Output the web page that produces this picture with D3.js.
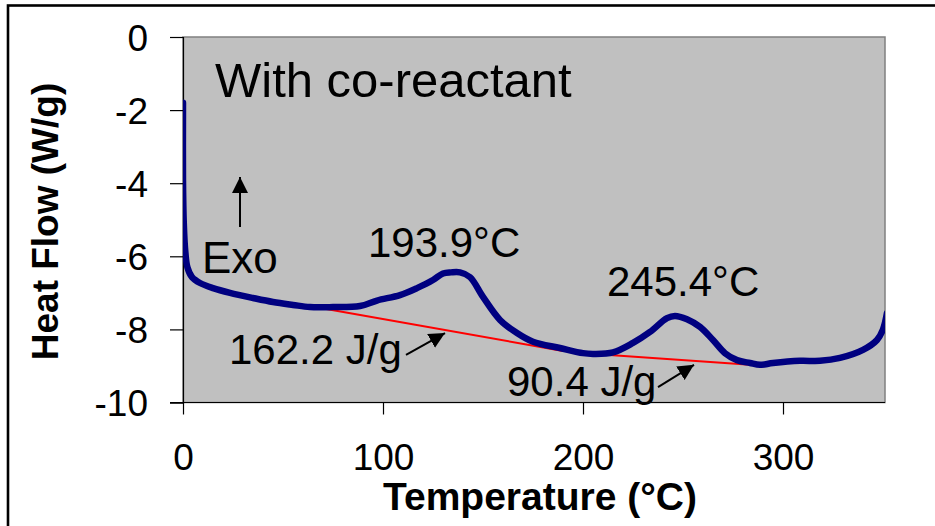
<!DOCTYPE html>
<html>
<head>
<meta charset="utf-8">
<script src="https://cdn.jsdelivr.net/npm/d3@7"></script>
<style>
  html, body { margin: 0; padding: 0; background: #fff; }
  svg { display: block; font-family: "Liberation Sans", Arial, sans-serif; }
</style>
</head>
<body>
<svg id="chart" width="935" height="526"></svg>
<script>
// DSC trace: temperature (°C) vs heat flow (W/g)
const temperature = [0, 0, 0.4, 1.2, 2.2, 4.5, 8.5, 15, 23.5, 35, 45, 55, 63.5, 75, 88.5, 97, 108.5, 117, 125, 130, 134, 138.5, 143.5, 150, 158.5, 167, 175, 188.5, 200, 205, 215, 225, 233.5, 242, 246, 252, 258.5, 265, 271, 277, 283.5, 288.5, 295, 308.5, 318.5, 328.5, 340, 347, 350, 352];
const heatFlow = [-1.8, -3.9, -5.1, -5.9, -6.3, -6.57, -6.73, -6.87, -7.0, -7.14, -7.25, -7.33, -7.39, -7.39, -7.36, -7.21, -7.06, -6.87, -6.65, -6.47, -6.44, -6.44, -6.57, -7.11, -7.74, -8.1, -8.34, -8.51, -8.65, -8.67, -8.63, -8.37, -8.07, -7.69, -7.63, -7.72, -7.93, -8.29, -8.65, -8.84, -8.92, -8.97, -8.92, -8.86, -8.86, -8.78, -8.56, -8.29, -8.0, -7.55];

// Integration baselines under the two exotherms
const baselineStart = [[66, -7.39], [206, -8.67]];
const baselineEnd = [[190, -8.59], [283.5, -8.97]];

// Axis ticks
const xTicks = [0, 100, 200, 300];
const yTicks = [0, -2, -4, -6, -8, -10];

// Text annotations (anchor in data units)
const labelText = ["With co-reactant", "Exo", "193.9°C", "245.4°C", "162.2 J/g", "90.4 J/g"];
const labelT = [16, 9.5, 92.5, 212, 23, 162];
const labelH = [-1.64, -6.46, -6.02, -7.09, -8.95, -9.82];
const labelSize = [49, 44, 42, 42, 42, 42];

// Arrows: from (tail) to (head) in data units
const arrowFrom = [[28.5, -5.2], [111.5, -8.70], [237.5, -9.58]];
const arrowTo = [[28.5, -3.83], [131, -8.10], [255.5, -8.97]];

const svg = d3.select("#chart");
const plotLeft = 183, plotRight = 885, plotTop = 37, plotBottom = 402.5;

const x = d3.scaleLinear().domain([0, 351]).range([plotLeft, plotRight]);
const y = d3.scaleLinear().domain([-10, 0]).range([plotBottom, plotTop]);

// outer frame
svg.append("rect")
  .attr("x", 8).attr("y", 5.5).attr("width", 1000).attr("height", 600)
  .attr("fill", "none").attr("stroke", "#000").attr("stroke-width", 2.6);

// plot area
svg.append("rect")
  .attr("x", plotLeft).attr("y", plotTop).attr("width", plotRight - plotLeft).attr("height", plotBottom - plotTop)
  .attr("fill", "#c0c0c0").attr("stroke", "#808080").attr("stroke-width", 1.5);

const defs = svg.append("defs");
defs.append("clipPath").attr("id", "plotClip")
  .append("rect").attr("x", plotLeft).attr("y", plotTop)
  .attr("width", plotRight - plotLeft).attr("height", plotBottom - plotTop);

// axes (plain hyphen for negatives)
const fmt = d => String(d);
const xAxis = svg.append("g").attr("transform", `translate(0,${plotBottom})`)
  .call(d3.axisBottom(x).tickValues(xTicks).tickSize(12).tickPadding(30).tickFormat(fmt));
const yAxis = svg.append("g").attr("transform", `translate(${plotLeft},0)`)
  .call(d3.axisLeft(y).tickValues(yTicks).tickSize(13).tickPadding(22).tickFormat(fmt));

[xAxis, yAxis].forEach(g => {
  g.select(".domain").attr("stroke", "#000").attr("stroke-width", 1.2);
  g.selectAll(".tick line").attr("stroke", "#000").attr("stroke-width", 1.2);
  g.selectAll(".tick text").attr("fill", "#000")
    .style("font-family", "'Liberation Sans', Arial, sans-serif").style("font-size", "37px");
});
// the x baseline runs out under the y ticks
xAxis.select(".domain").attr("d", `M${plotLeft - 13},0H${plotRight}`);
xAxis.selectAll(".tick text").attr("dy", null).attr("y", 67);
yAxis.selectAll(".tick text").attr("dy", "0.36em");

// baselines
const plot = svg.append("g").attr("clip-path", "url(#plotClip)");
plot.selectAll("line.base").data(baselineStart).join("line")
  .attr("class", "base")
  .attr("x1", d => x(d[0])).attr("y1", d => y(d[1]))
  .attr("x2", (d, i) => x(baselineEnd[i][0])).attr("y2", (d, i) => y(baselineEnd[i][1]))
  .attr("stroke", "#ff0000").attr("stroke-width", 2);

// heat flow trace
const pts = temperature.map((t, i) => [t, heatFlow[i]]);
plot.append("path")
  .datum(pts)
  .attr("d", d3.line().x(d => x(d[0])).y(d => y(d[1])).curve(d3.curveCatmullRom.alpha(0.5)))
  .attr("fill", "none").attr("stroke", "#000080").attr("stroke-width", 6.5)
  .attr("stroke-linejoin", "round").attr("stroke-linecap", "round");

// arrows
defs.append("marker")
  .attr("id", "head").attr("viewBox", "0 0 10 10").attr("refX", 10).attr("refY", 5)
  .attr("markerUnits", "userSpaceOnUse").attr("markerWidth", 16).attr("markerHeight", 16)
  .attr("orient", "auto")
  .append("path").attr("d", "M0,0L10,5L0,10Z").attr("fill", "#000");

svg.selectAll("line.arrow").data(arrowFrom).join("line")
  .attr("class", "arrow")
  .attr("x1", d => x(d[0])).attr("y1", d => y(d[1]))
  .attr("x2", (d, i) => x(arrowTo[i][0])).attr("y2", (d, i) => y(arrowTo[i][1]))
  .attr("stroke", "#000").attr("stroke-width", 2).attr("marker-end", "url(#head)");

// annotations
svg.selectAll("text.note").data(labelText).join("text")
  .attr("class", "note")
  .attr("x", (d, i) => x(labelT[i])).attr("y", (d, i) => y(labelH[i]))
  .style("font-size", (d, i) => labelSize[i] + "px")
  .attr("fill", "#000")
  .text(d => d);

// axis titles
svg.append("text")
  .attr("x", 540).attr("y", 510).attr("text-anchor", "middle")
  .style("font-size", "39px").style("font-weight", "bold")
  .text("Temperature (°C)");
svg.append("text")
  .attr("transform", "translate(58,221.5) rotate(-90)").attr("text-anchor", "middle")
  .style("font-size", "37px").style("font-weight", "bold")
  .text("Heat Flow (W/g)");
</script>
</body>
</html>
